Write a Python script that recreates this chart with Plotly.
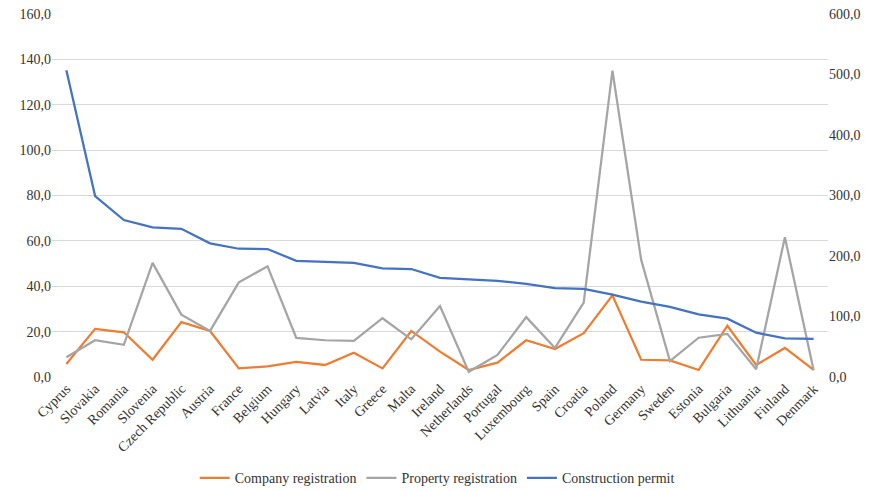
import plotly.graph_objects as go

countries = ["Cyprus", "Slovakia", "Romania", "Slovenia", "Czech Republic", "Austria", "France",
             "Belgium", "Hungary", "Latvia", "Italy", "Greece", "Malta", "Ireland", "Netherlands",
             "Portugal", "Luxembourg", "Spain", "Croatia", "Poland", "Germany", "Sweden", "Estonia",
             "Bulgaria", "Lithuania", "Finland", "Denmark"]

company_registration = [5.7, 21.2, 19.7, 7.6, 24.2, 20.3, 3.8, 4.7, 6.7, 5.3, 10.7, 3.8, 20.3, 11.2,
                        3.1, 6.3, 16.2, 12.3, 19.3, 36.0, 7.6, 7.3, 3.1, 22.6, 5.3, 12.8, 3.1]

property_registration = [8.7, 16.2, 14.2, 50.3, 27.5, 20.3, 41.7, 48.8, 17.2, 16.2, 15.9, 25.9, 16.6,
                         31.3, 2.3, 9.7, 26.4, 12.8, 32.8, 135.0, 51.6, 7.05, 17.3, 19.0, 3.4, 61.6, 3.0]

construction_permit = [507, 299, 259.5, 247.5, 245, 221, 212, 211.5, 192, 190.5, 188.5, 179.6, 178.5,
                       164, 161.5, 159, 154, 147, 145.5, 136, 124.5, 116, 103.6, 96.4, 73.2, 64, 63]

FONT = "Times New Roman, Liberation Serif, serif"
TXT = "#333333"

fig = go.Figure()
fig.add_trace(go.Scatter(x=countries, y=company_registration, name="Company registration",
                         mode="lines", line=dict(color="#ED7D31", width=2.25), yaxis="y"))
fig.add_trace(go.Scatter(x=countries, y=property_registration, name="Property registration",
                         mode="lines", line=dict(color="#A5A5A5", width=2.25), yaxis="y"))
fig.add_trace(go.Scatter(x=countries, y=construction_permit, name="Construction permit",
                         mode="lines", line=dict(color="#4472C4", width=2.25), yaxis="y2"))

fig.update_layout(
    width=878, height=490,
    margin=dict(l=52, r=50, t=14, b=113),
    paper_bgcolor="white", plot_bgcolor="white",
    font=dict(family=FONT, size=14, color=TXT),
    separators=",.",
    showlegend=True,
    legend=dict(orientation="h", xref="container", yref="container",
                x=0.498, xanchor="center", y=0.024, yanchor="middle",
                font=dict(family=FONT, size=14, color=TXT), itemwidth=30,
                tracegroupgap=0),
    xaxis=dict(tickangle=-45, showgrid=False, showline=False, ticks="", automargin=False,
               range=[-0.5, len(countries) - 0.5],
               tickfont=dict(family=FONT, size=14, color=TXT)),
    yaxis=dict(range=[0, 160], dtick=20, tickformat=".1f", showgrid=True, gridcolor="#D9D9D9",
               gridwidth=1, zeroline=False, showline=False, ticks="", automargin=False,
               tickfont=dict(family=FONT, size=14, color=TXT)),
    yaxis2=dict(range=[0, 600], dtick=100, tickformat=".1f", overlaying="y", side="right",
                showgrid=False, zeroline=False, showline=False, ticks="", automargin=False,
                tickfont=dict(family=FONT, size=14, color=TXT)),
)

fig.write_html("out.html", config={"displayModeBar": False},
               post_script="document.body.style.margin='0';document.body.style.overflow='hidden';")
